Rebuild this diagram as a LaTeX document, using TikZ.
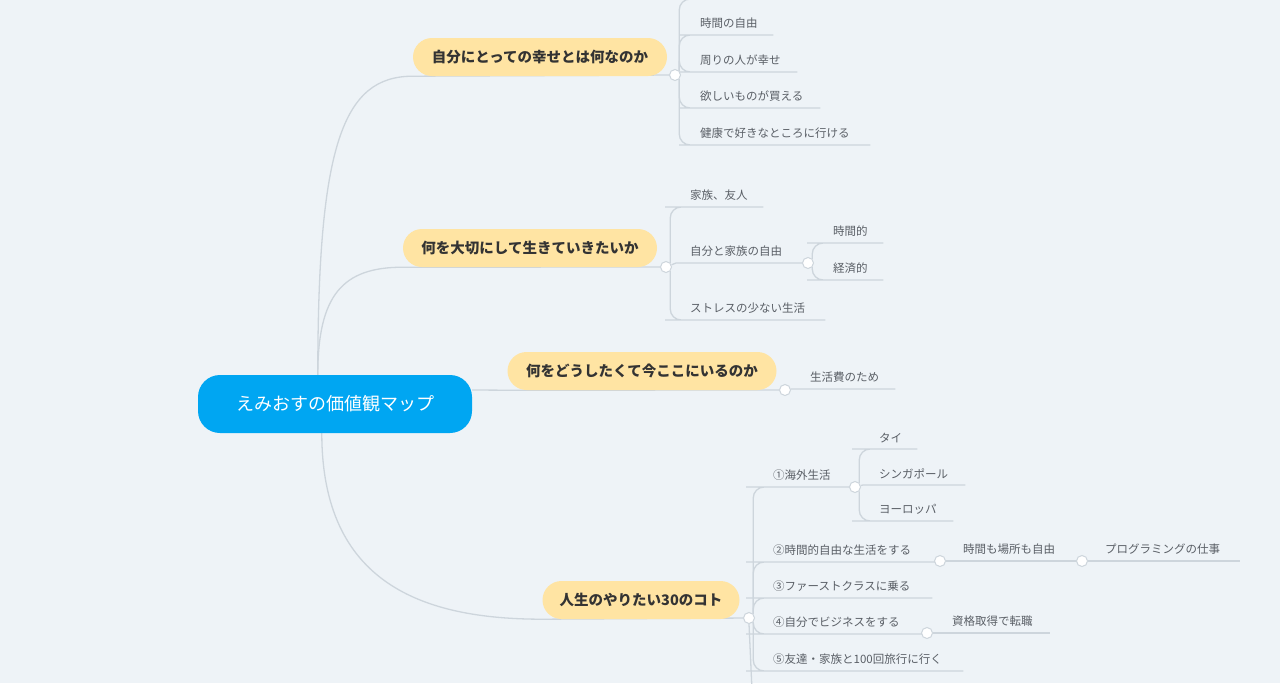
\documentclass[tikz,border=0pt]{standalone}
\usepackage{fontspec}
\setmainfont{Noto Sans CJK JP}
\usetikzlibrary{calc,backgrounds}
\definecolor{paper}{HTML}{EEF3F7}
\definecolor{wire}{HTML}{CDD5DC}
\definecolor{sky}{HTML}{00A6F2}
\definecolor{cream}{HTML}{FFE4A3}
\definecolor{ink}{HTML}{5A5F66}
\tikzset{
  br/.style={draw=wire, line width=1.3pt},
  twig/.style={br, rounded corners=11pt},
  leaf/.style={anchor=south west, inner xsep=0pt, inner ysep=6pt, text=ink,
    font=\fontsize{11.5}{13}\selectfont, align=left},
  topic/.style={fill=cream, rounded corners=19pt, minimum height=38pt, inner sep=0pt,
    text=black!80, font=\fontsize{14.5}{16}\selectfont\bfseries},
  knob/.style={circle, draw=wire, line width=1pt, fill=white, minimum size=11pt, inner sep=0pt}
}
\begin{document}
\begin{tikzpicture}[x=1pt, y=-1pt]
\useasboundingbox (0,0) rectangle (1280,683);
% central topic and main branches
\node[fill=sky, rounded corners=22pt, minimum width=274pt, minimum height=58pt, text=white,
  font=\fontsize{18}{20}\selectfont] (root) at (335,404) {えみおすの価値観マップ};
\node[topic, minimum width=254pt] (happy) at (540,57) {自分にとっての幸せとは何なのか};
\node[topic, minimum width=254pt] (value) at (530,248) {何を大切にして生きていきたいか};
\node[topic, minimum width=269pt] (why) at (642,371) {何をどうしたくて今ここにいるのか};
\node[topic, minimum width=197pt] (todo) at (641,600) {人生のやりたい30のコト};
% knobs
\node[knob] (k1) at (675,75) {};
\node[knob] (k2) at (666,267) {};
\node[knob] (k2b) at (808,263) {};
\node[knob] (k3) at (785,390) {};
\node[knob] (k4) at (749,618) {};
\node[knob] (k4a) at (855,487) {};
\node[knob] (k4b) at (940,561) {};
\node[knob] (k4c) at (1082,561) {};
\node[knob] (k4d) at (927,633) {};
% leaves of happy
\coordinate (h0) at (690,-1);
\coordinate (h0end) at (855,-1);
\node[leaf, text width=83pt] (h1) at (690,35) {\hspace{10pt}時間の自由};
\node[leaf, text width=107pt] (h2) at (690,72) {\hspace{10pt}周りの人が幸せ};
\node[leaf, text width=130pt] (h3) at (690,108) {\hspace{10pt}欲しいものが買える};
\node[leaf, text width=180pt] (h4) at (690,145) {\hspace{10pt}健康で好きなところに行ける};
% leaves of value
\node[leaf, text width=87pt] (v1) at (676,207) {\hspace{14pt}家族、友人};
\node[leaf, text width=132pt] (v2) at (676,263) {\hspace{14pt}自分と家族の自由};
\node[leaf, text width=149pt] (v3) at (676,320) {\hspace{14pt}ストレスの少ない生活};
\node[leaf, text width=65pt] (v2a) at (818,243) {\hspace{15pt}時間的};
\node[leaf, text width=65pt] (v2b) at (818,280) {\hspace{15pt}経済的};
% leaf of why
\node[leaf, text width=104pt] (w1) at (791,389) {\hspace{19pt}生活費のため};
% leaves of todo
\node[leaf, text width=96pt] (t1) at (757,487) {\hspace{16pt}①海外生活};
\node[leaf, text width=182pt] (t2) at (757,562) {\hspace{16pt}②時間的自由な生活をする};
\node[leaf, text width=175pt] (t3) at (757,598) {\hspace{16pt}③ファーストクラスに乗る};
\node[leaf, text width=170pt] (t4) at (757,634) {\hspace{16pt}④自分でビジネスをする};
\node[leaf, text width=206pt] (t5) at (757,671) {\hspace{16pt}⑤友達・家族と100回旅行に行く};
\coordinate (tmore) at (752,690);
\node[leaf, text width=54pt] (t1a) at (863,449) {\hspace{16pt}タイ};
\node[leaf, text width=102pt] (t1b) at (863,485) {\hspace{16pt}シンガポール};
\node[leaf, text width=90pt] (t1c) at (863,521) {\hspace{16pt}ヨーロッパ};
\node[leaf, text width=136pt] (t2a) at (946,561) {\hspace{17pt}時間も場所も自由};
\node[leaf, text width=152pt] (t2b) at (1088,561) {\hspace{17pt}プログラミングの仕事};
\node[leaf, text width=117pt] (t4a) at (933,633) {\hspace{19pt}資格取得で転職};
% connectors
\begin{scope}[on background layer]
\fill[paper] (0,0) rectangle (1280,683);
\draw[br] ($(root.north west)+(120,0)$) .. controls +(0,-230) and +(-70,0) .. (happy.south west) -- (k1);
\draw[br] ($(root.north west)+(120,0)$) .. controls +(0,-80) and +(-60,0) .. (value.south west) -- (k2);
\draw[br] ($(root.east)+(0,-14)$) -- (why.south west) -- (k3);
\draw[br] ($(root.south west)+(124,0)$) .. controls +(0,150) and +(-120,0) .. (todo.south west) -- (k4);
\draw[twig] (k1.north east) |- (h0) -- (h0end);
\foreach \n in {h1,h2} \draw[twig] (k1.north east) |- (\n.south west) -- (\n.south east);
\foreach \n in {h3,h4} \draw[twig] (k1.south east) |- (\n.south west) -- (\n.south east);
\draw[twig] (k2.north east) |- (v1.south west) -- (v1.south east);
\draw[br] (k2) -- (v2.south west) -- (v2.south east);
\draw[twig] (k2.south east) |- (v3.south west) -- (v3.south east);
\draw[twig] (k2b.north east) |- (v2a.south west) -- (v2a.south east);
\draw[twig] (k2b.south east) |- (v2b.south west) -- (v2b.south east);
\draw[br] (k3) -- (w1.south west) -- (w1.south east);
\foreach \n in {t1,t2,t3} \draw[twig] (k4.north east) |- (\n.south west) -- (\n.south east);
\foreach \n in {t4,t5} \draw[twig] (k4.south east) |- (\n.south west) -- (\n.south east);
\draw[br] (k4.south) -- (tmore);
\draw[twig] (k4a.north east) |- (t1a.south west) -- (t1a.south east);
\draw[br] (k4a) -- (t1b.south west) -- (t1b.south east);
\draw[twig] (k4a.south east) |- (t1c.south west) -- (t1c.south east);
\draw[br] (k4b) -- (t2a.south west) -- (t2a.south east);
\draw[br] (k4c) -- (t2b.south west) -- (t2b.south east);
\draw[br] (k4d) -- (t4a.south west) -- (t4a.south east);
\end{scope}
\end{tikzpicture}
\end{document}
